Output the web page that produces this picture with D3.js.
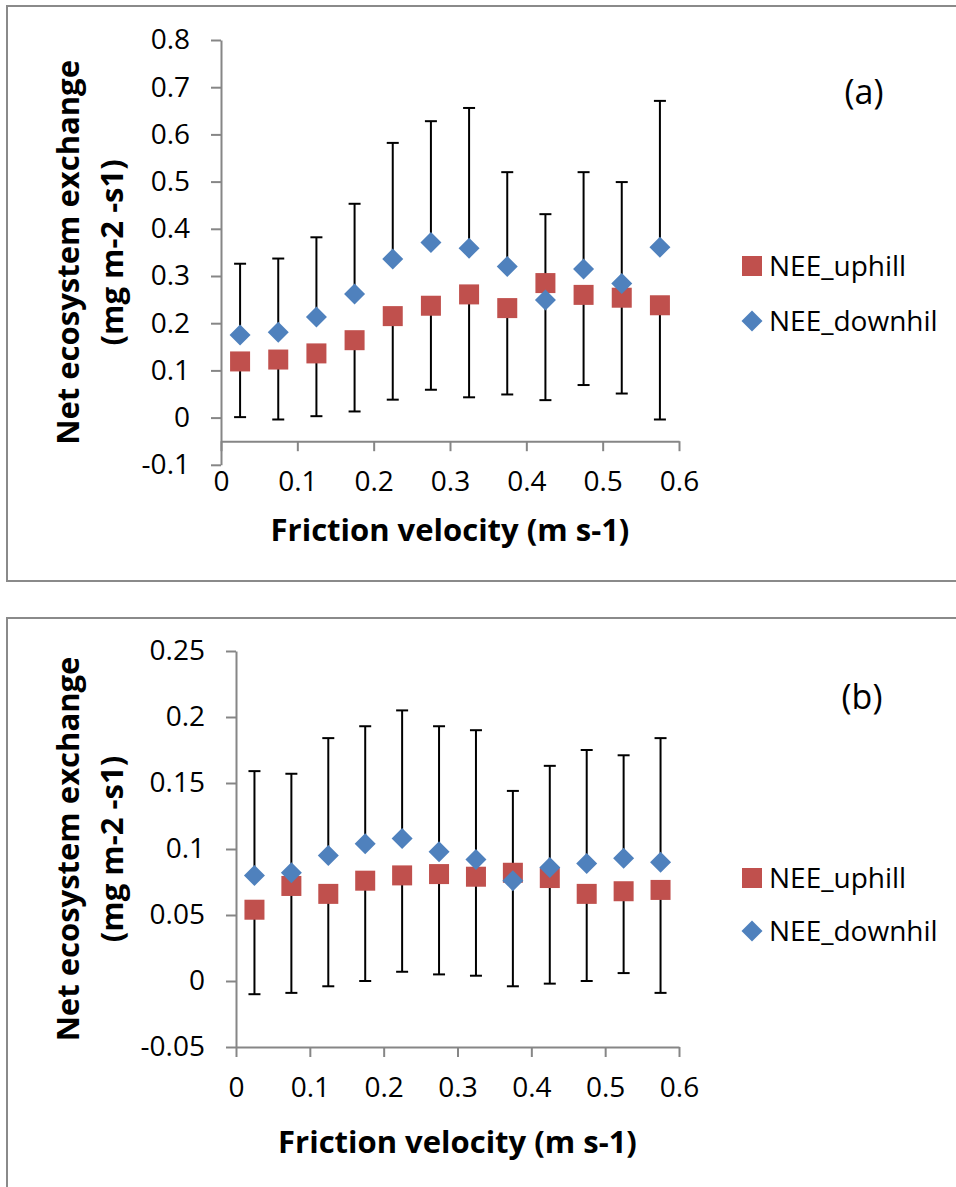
<!DOCTYPE html>
<html>
<head>
<meta charset="utf-8">
<script src="https://cdn.jsdelivr.net/npm/d3@7"></script>
<style>
  body { margin: 0; background: #fff; }
  svg text { font-family: "Open Sans", sans-serif; fill: #000; }
</style>
</head>
<body>
<div id="chart"></div>
<script>
// friction velocity bins (x)
var ustar = [0.025, 0.075, 0.125, 0.175, 0.225, 0.275, 0.325, 0.375, 0.425, 0.475, 0.525, 0.575];
var xTicks = [0, 0.1, 0.2, 0.3, 0.4, 0.5, 0.6];

// panel (a)
var upA = [0.119, 0.123, 0.136, 0.164, 0.215, 0.237, 0.261, 0.232, 0.285, 0.260, 0.254, 0.238];
var downA = [0.175, 0.181, 0.213, 0.262, 0.336, 0.371, 0.359, 0.320, 0.249, 0.315, 0.284, 0.361];
var upLowA = [0.001, -0.004, 0.003, 0.013, 0.038, 0.059, 0.043, 0.049, 0.037, 0.069, 0.051, -0.004];
var downHighA = [0.326, 0.337, 0.382, 0.453, 0.582, 0.628, 0.656, 0.520, 0.431, 0.520, 0.499, 0.671];
var yTicksA = [-0.1, 0, 0.1, 0.2, 0.3, 0.4, 0.5, 0.6, 0.7, 0.8];

// panel (b)
var upB = [0.054, 0.072, 0.066, 0.076, 0.080, 0.081, 0.079, 0.082, 0.078, 0.066, 0.068, 0.069];
var downB = [0.080, 0.082, 0.095, 0.104, 0.108, 0.098, 0.092, 0.076, 0.086, 0.089, 0.093, 0.090];
var upLowB = [-0.010, -0.009, -0.004, 0.000, 0.007, 0.005, 0.004, -0.004, -0.002, 0.000, 0.006, -0.009];
var downHighB = [0.159, 0.157, 0.184, 0.193, 0.205, 0.193, 0.190, 0.144, 0.163, 0.175, 0.171, 0.184];
var yTicksB = [-0.05, 0, 0.05, 0.1, 0.15, 0.2, 0.25];

var seriesNames = ["NEE_uphill", "NEE_downhil"];
var red = "#C0504D", blue = "#4F81BD", axisGrey = "#868686";

var svg = d3.select("#chart").append("svg")
  .attr("width", 956)
  .attr("height", 1187);

function drawPanel(p) {
  var g = svg.append("g");

  // chart area frame
  g.append("rect")
    .attr("x", 7).attr("y", p.frameTop)
    .attr("width", 962).attr("height", p.frameHeight)
    .attr("fill", "none").attr("stroke", "#8a8a8a").attr("stroke-width", 2);

  var x = d3.scaleLinear().domain([0, 0.6]).range([p.left, 679]);
  var y = d3.scaleLinear().domain(p.yDomain).range([p.bottom, p.top]);

  // axes
  var yAxis = d3.axisLeft(y).tickValues(p.yTicks).tickSize(10).tickSizeOuter(0)
    .tickPadding(21).tickFormat(function(d) { return String(d); });
  var xAxis = d3.axisBottom(x).tickValues(xTicks).tickSize(10).tickSizeOuter(0)
    .tickPadding(20).tickFormat(function(d) { return String(d); });

  var ya = g.append("g").attr("transform", "translate(" + p.left + ",0)").call(yAxis);
  var xa = g.append("g").attr("transform", "translate(0," + y(p.xCross) + ")").call(xAxis);
  [ya, xa].forEach(function(a) {
    a.select(".domain").attr("stroke", axisGrey).attr("stroke-width", 2);
    a.selectAll(".tick line").attr("stroke", axisGrey).attr("stroke-width", 2);
    a.selectAll(".tick text").attr("font-size", 28).attr("font-family", "Open Sans").attr("fill", "#000");
  });

  var rows = ustar.map(function(u, i) {
    return { u: u, up: p.up[i], down: p.down[i], low: p.upLow[i], high: p.downHigh[i] };
  });

  // error bars: downhill plus, uphill minus
  var eb = g.append("g").attr("stroke", "#000").attr("stroke-width", 2);
  rows.forEach(function(d) {
    var cx = x(d.u);
    eb.append("line").attr("x1", cx).attr("x2", cx).attr("y1", y(d.down)).attr("y2", y(d.high));
    eb.append("line").attr("x1", cx - 6).attr("x2", cx + 6).attr("y1", y(d.high)).attr("y2", y(d.high));
    eb.append("line").attr("x1", cx).attr("x2", cx).attr("y1", y(d.up)).attr("y2", y(d.low));
    eb.append("line").attr("x1", cx - 6).attr("x2", cx + 6).attr("y1", y(d.low)).attr("y2", y(d.low));
  });

  g.selectAll(".sq").data(rows).enter().append("rect")
    .attr("x", function(d) { return x(d.u) - 10; })
    .attr("y", function(d) { return y(d.up) - 10; })
    .attr("width", 20).attr("height", 20)
    .attr("fill", red);

  var diamond = "M0,-10.5L10.5,0L0,10.5L-10.5,0Z";
  g.selectAll(".dm").data(rows).enter().append("path")
    .attr("d", diamond)
    .attr("transform", function(d) { return "translate(" + x(d.u) + "," + y(d.down) + ")"; })
    .attr("fill", blue);

  // axis titles
  g.append("text")
    .attr("x", (p.left + 679) / 2).attr("y", p.xTitleY).attr("dy", "0.35em")
    .attr("text-anchor", "middle").attr("font-weight", "bold").attr("font-size", 31)
    .text("Friction velocity (m s-1)");

  var midY = (p.top + p.bottom) / 2;
  g.append("text")
    .attr("transform", "translate(68," + midY + ") rotate(-90)")
    .attr("dy", "0.35em").attr("text-anchor", "middle")
    .attr("font-weight", "bold").attr("font-size", 31)
    .text("Net ecosystem exchange");
  g.append("text")
    .attr("transform", "translate(112," + midY + ") rotate(-90)")
    .attr("dy", "0.35em").attr("text-anchor", "middle")
    .attr("font-weight", "bold").attr("font-size", 31)
    .text("(mg m-2 -s1)");

  // panel tag
  g.append("text")
    .attr("x", p.tagX).attr("y", p.tagY).attr("dy", "0.35em")
    .attr("text-anchor", "middle").attr("font-size", 34)
    .text(p.tag);

  // legend
  var lg = g.append("g");
  lg.append("rect").attr("x", 742).attr("y", p.legY[0] - 10).attr("width", 20).attr("height", 20).attr("fill", red);
  lg.append("path").attr("d", diamond).attr("transform", "translate(752," + p.legY[1] + ")").attr("fill", blue);
  seriesNames.forEach(function(n, i) {
    lg.append("text").attr("x", 769).attr("y", p.legY[i]).attr("dy", "0.35em")
      .attr("font-size", 28).text(n);
  });
}

drawPanel({
  frameTop: 6, frameHeight: 575,
  left: 221, top: 40, bottom: 464.8,
  yDomain: [-0.1, 0.8], yTicks: yTicksA, xCross: -0.05,
  up: upA, down: downA, upLow: upLowA, downHigh: downHighA,
  xTitleY: 530, tag: "(a)", tagX: 864, tagY: 92, legY: [266, 321]
});

drawPanel({
  frameTop: 618, frameHeight: 600,
  left: 236, top: 651, bottom: 1047,
  yDomain: [-0.05, 0.25], yTicks: yTicksB, xCross: -0.05,
  up: upB, down: downB, upLow: upLowB, downHigh: downHighB,
  xTitleY: 1142, tag: "(b)", tagX: 862, tagY: 697, legY: [878, 931]
});
</script>
</body>
</html>
